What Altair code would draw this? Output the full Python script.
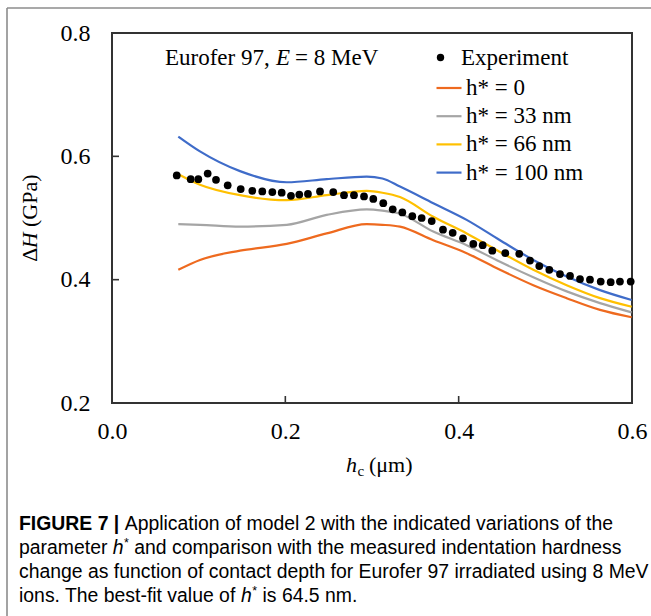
import altair as alt
import pandas as pd

# ---------------- data ----------------
exp_x = [0.0747, 0.0908, 0.0996, 0.1104, 0.1200, 0.1335, 0.1485, 0.1619, 0.1734, 0.1850,
         0.1958, 0.2065, 0.2161, 0.2261, 0.2400, 0.2553, 0.2677, 0.2792, 0.2908, 0.3015,
         0.3130, 0.3239, 0.3350, 0.3465, 0.3573, 0.3689, 0.3819, 0.3931, 0.4050, 0.4169,
         0.4277, 0.4388, 0.4538, 0.4699, 0.4823, 0.4930, 0.5046, 0.5169, 0.5285, 0.5400,
         0.5515, 0.5639, 0.5754, 0.5861, 0.5985]
exp_y = [0.569, 0.563, 0.563, 0.572, 0.562, 0.553, 0.547, 0.544, 0.543, 0.542,
         0.541, 0.536, 0.538, 0.539, 0.543, 0.542, 0.537, 0.537, 0.535, 0.531,
         0.524, 0.514, 0.509, 0.503, 0.500, 0.495, 0.481, 0.476, 0.467, 0.458,
         0.456, 0.447, 0.443, 0.442, 0.431, 0.422, 0.416, 0.409, 0.406, 0.401,
         0.400, 0.397, 0.396, 0.397, 0.397]

model_x = [0.0765, 0.1015, 0.1477, 0.2016, 0.2477, 0.2939, 0.312, 0.3323, 0.3707,
           0.4092, 0.4477, 0.4861, 0.5246, 0.5631, 0.5996]
h0 = [0.416, 0.432, 0.447, 0.458, 0.475, 0.490, 0.489, 0.486, 0.464, 0.443, 0.416,
      0.391, 0.370, 0.351, 0.339]
h33 = [0.490, 0.489, 0.486, 0.489, 0.505, 0.514, 0.512, 0.507, 0.478, 0.456, 0.429,
       0.404, 0.381, 0.362, 0.347]
h66 = [0.571, 0.554, 0.537, 0.529, 0.537, 0.544, 0.541, 0.534, 0.502, 0.475, 0.445,
       0.416, 0.391, 0.370, 0.356]
h100 = [0.632, 0.608, 0.576, 0.558, 0.563, 0.567, 0.564, 0.551, 0.524, 0.497, 0.464,
        0.432, 0.405, 0.383, 0.367]

series_names = ["h* = 0", "h* = 33 nm", "h* = 66 nm", "h* = 100 nm"]
series_colors = ["#EE6A1F", "#A5A5A5", "#FFC000", "#3F6CC9"]
exp_name = "Experiment"

x_ticks = [0.0, 0.2, 0.4, 0.6]
y_ticks = [0.2, 0.4, 0.6, 0.8]
x_inner_ticks = [0.2, 0.4]
y_inner_ticks = [0.4, 0.6]

SERIF = "Liberation Serif"
SANS = "Liberation Sans"
CAP = 19.4

exp_df = pd.DataFrame({"x": exp_x, "y": exp_y, "series": exp_name})
rows = []
for name, vals in zip(series_names, [h0, h33, h66, h100]):
    for xv, yv in zip(model_x, vals):
        rows.append({"x": xv, "y": yv, "series": name})
model_df = pd.DataFrame(rows)

xs = alt.Scale(domain=[0, 0.6], nice=False, zero=False)
ys = alt.Scale(domain=[0.2, 0.8], nice=False, zero=False)
x_axis = alt.Axis(values=x_ticks, format=".1f", title=None, ticks=False, domain=False,
                  grid=False, labelFont=SERIF, labelFontSize=24, labelColor="black",
                  labelPadding=16, labelFlush=False)
y_axis = alt.Axis(values=y_ticks, format=".1f", title=None, ticks=False, domain=False,
                  grid=False, labelFont=SERIF, labelFontSize=24, labelColor="black",
                  labelPadding=22, labelFlush=False)


def X(field="x"):
    return alt.X(f"{field}:Q", scale=xs, axis=x_axis)


def Y(field="y"):
    return alt.Y(f"{field}:Q", scale=ys, axis=y_axis)


lines = alt.Chart(model_df).mark_line(strokeWidth=2.2, interpolate="monotone").encode(
    x=X(), y=Y(),
    color=alt.Color("series:N", scale=alt.Scale(domain=series_names, range=series_colors),
                    sort=series_names,
                    legend=alt.Legend(title=None, orient="none", legendX=323, legendY=41,
                                      symbolType="stroke", symbolSize=625,
                                      symbolStrokeWidth=2.2, labelFont=SERIF,
                                      labelFontSize=23, labelColor="black", labelOffset=3,
                                      rowPadding=2.2, padding=0)),
)

points = alt.Chart(exp_df).mark_point(filled=True, color="black", size=60, opacity=1).encode(
    x=X(), y=Y(),
    shape=alt.Shape("series:N", scale=alt.Scale(domain=[exp_name], range=["circle"]),
                    legend=alt.Legend(title=None, orient="none", legendX=317, legendY=13,
                                      symbolFillColor="black", symbolStrokeColor="black",
                                      symbolSize=55, symbolStrokeWidth=0, labelFont=SERIF,
                                      labelFontSize=23, labelColor="black", labelOffset=9,
                                      padding=0)),
)

xt = alt.Chart(pd.DataFrame({"x": x_inner_ticks})).mark_rule(color="#333", strokeWidth=1.6).encode(
    x=X(), y=alt.value(370), y2=alt.value(363))
yt = alt.Chart(pd.DataFrame({"y": y_inner_ticks})).mark_rule(color="#333", strokeWidth=1.6).encode(
    y=Y(), x=alt.value(0), x2=alt.value(7))

one = pd.DataFrame({"a": [0]})


def txt(text, x, y, size, font=SERIF, style="normal", weight="normal", align="left",
        angle=0, baseline="alphabetic", color="black"):
    return alt.Chart(one).mark_text(text=text, font=font, fontSize=size, fontStyle=style,
                                    fontWeight=weight, align=align, angle=angle,
                                    baseline=baseline, color=color).encode(
        x=alt.value(x), y=alt.value(y))


annos = [
    # in-plot label
    txt("Eurofer 97,", 53, 32, 23),
    txt("E", 164, 32, 23, style="italic"),
    txt("= 8 MeV", 183, 32, 23),
    # x title
    txt("h", 234, 439, 22, style="italic"),
    txt("c", 245.5, 443, 15),
    txt("(μm)", 257, 439, 22),
    # y title (rotated)
    txt("Δ", -82, 228.7, 22, angle=270, baseline="middle"),
    txt("H", -82, 215.2, 22, style="italic", angle=270, baseline="middle"),
    txt("(GPa)", -82, 194, 22, angle=270, baseline="middle"),
    # caption
    txt("FIGURE 7 |", -93, 497, CAP, font=SANS, weight="bold"),
    txt("Application of model 2 with the indicated variations of the", 12.7, 497, CAP, font=SANS),
    txt("parameter", -93, 521, CAP, font=SANS),
    txt("h", 0.8, 521, CAP, font=SANS, style="italic"),
    txt("*", 12, 514, 12.4, font=SANS),
    txt("and comparison with the measured indentation hardness", 22.2, 521, CAP, font=SANS),
    txt("change as function of contact depth for Eurofer 97 irradiated using 8 MeV", -93, 545, CAP, font=SANS),
    txt("ions. The best-fit value of", -93, 569, CAP, font=SANS),
    txt("h", 129.1, 569, CAP, font=SANS, style="italic"),
    txt("*", 140.3, 562, 12.4, font=SANS),
    txt("is 64.5 nm.", 150.5, 569, CAP, font=SANS),
]

frame_top = alt.Chart(one).mark_rule(color="#8c8c8c", strokeWidth=1.6).encode(
    x=alt.value(-105), x2=alt.value(560), y=alt.value(-25))
frame_left = alt.Chart(one).mark_rule(color="#8c8c8c", strokeWidth=1.6).encode(
    x=alt.value(-105), y=alt.value(-25), y2=alt.value(600))

chart = alt.layer(frame_top, frame_left, lines, points, xt, yt, *annos).properties(
    width=520, height=370,
    autosize=alt.AutoSizeParams(type="none"),
    padding={"left": 112, "top": 33, "right": 19, "bottom": 213},
    background="white",
).resolve_scale(color="independent", shape="independent").configure_view(
    stroke="#333", strokeWidth=2)

chart.save("out.html", embed_options={"renderer": "svg", "actions": False})
